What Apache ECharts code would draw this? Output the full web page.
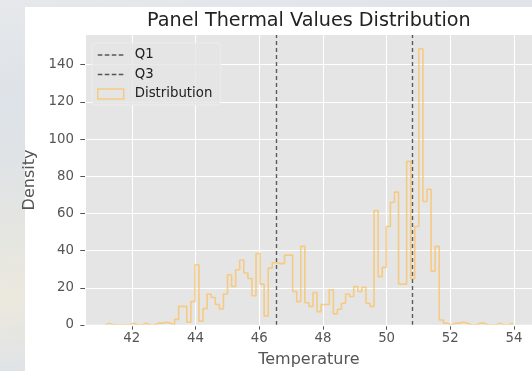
<!DOCTYPE html>
<html><head><meta charset="utf-8">
<script src="https://cdn.jsdelivr.net/npm/echarts@6/dist/echarts.min.js"></script>
<style>
html,body{margin:0;padding:0;}
body{width:532px;height:371px;overflow:hidden;position:relative;
background:linear-gradient(172deg,#e6e8eb 0%,#dde2e8 25%,#e4e5e2 50%,#ebe8dd 68%,#dfe3e8 85%,#e3e6ea 100%);}
#fig{position:absolute;left:25px;top:7px;right:0;bottom:0;background:#ffffff;}
#chart{position:absolute;left:0;top:0;width:532px;height:371px;}
</style></head><body>
<div id="fig"></div><div id="chart"></div>
<script>
const xTicks = [42, 44, 46, 48, 50, 52, 54];
const yTicks = [0, 20, 40, 60, 80, 100, 120, 140];
const binStart = 41.171;
const binWidth = 0.12781;
const density = [
  1, 0, 0, 0, 0, 0, 1, 0, 0, 1,
  0, 0, 1, 1, 1.5, 1, 0, 3, 10, 10,
  1.5, 12.6, 32.4, 2, 8.8, 16.7, 14.8, 11, 8.6, 16.7,
  27, 20.7, 29.7, 35, 28, 25, 15.7, 38.4, 22, 4.9,
  30.6, 33.5, 33, 33, 37.6, 37.6, 18, 12.6, 42.3, 12,
  10, 17.5, 7.2, 11, 11, 19, 6, 8.5, 11.7, 16.7,
  15.3, 20.7, 18, 20.3, 11.7, 10, 61.6, 26, 31, 53,
  66, 71.5, 22, 22, 88, 25, 53, 148.6, 66.4, 73,
  29, 42.3, 2.7, 1, 0, 1, 1, 1.5, 1, 0,
  0, 1, 1, 0, 0, 0, 1, 0, 0, 1
];
const q1 = 46.53;
const q3 = 50.79;
const xMin = 40.532, xMax = 54.589;
const yMin = 0, yMax = 156;

const FONT = 'DejaVu Sans';
const ORANGE = 'rgba(251,193,94,0.72)';

// step outline of histogram from bin edges
const histData = [[binStart, 0]];
density.forEach((v, i) => histData.push([binStart + i * binWidth, v]));
histData.push([binStart + density.length * binWidth, density[density.length - 1]]);
histData.push([binStart + density.length * binWidth, 0]);

const dashIcon = 'path://M0,0h0.01v0.01h-0.01z M0,4.3h4.6v1.4h-4.6z M7,4.3h4.6v1.4h-4.6z M14,4.3h4.6v1.4h-4.6z M21,4.3h4.6v1.4h-4.6z M25.99,9.99h0.01v0.01h-0.01z';

const chart = echarts.init(document.getElementById('chart'), null, {renderer: 'canvas'});
chart.setOption({
  animation: false,
  backgroundColor: 'transparent',
  title: {
    text: 'Panel Thermal Values Distribution',
    left: 308.9, top: 12, padding: 0, textAlign: 'center',
    textStyle: {fontFamily: FONT, fontSize: 19.2, fontWeight: 'normal', color: '#222'}
  },
  grid: {left: 85, top: 35, width: 447.8, height: 290, containLabel: false, outerBoundsMode: 'none',
         show: true, backgroundColor: '#E5E5E5', borderWidth: 0},
  legend: {
    orient: 'vertical', left: 92, top: 43, padding: [5, 8, 4, 5], itemGap: 5.5,
    itemWidth: 26, itemHeight: 10,
    backgroundColor: 'rgba(229,229,229,0.8)', borderColor: '#ededed', borderWidth: 1, borderRadius: 3,
    textStyle: {fontFamily: FONT, fontSize: 13.3, color: '#222', lineHeight: 14, padding: [0, 0, 0, 6]},
    selectedMode: false,
    data: [
      {name: 'Q1', icon: dashIcon, itemStyle: {color: '#555', borderWidth: 0}},
      {name: 'Q3', icon: dashIcon, itemStyle: {color: '#555', borderWidth: 0}},
      {name: 'Distribution', icon: 'rect', itemStyle: {color: 'rgba(0,0,0,0)', borderColor: ORANGE, borderWidth: 1.5}}
    ]
  },
  xAxis: [{
    type: 'value', min: xMin, max: xMax,
    name: 'Temperature', nameLocation: 'middle', nameGap: 27,
    nameTextStyle: {fontFamily: FONT, fontSize: 16, color: '#555555'},
    axisLine: {show: true, lineStyle: {color: '#ffffff', width: 1}},
    axisTick: {show: true, customValues: xTicks, length: 4.7, lineStyle: {color: '#555555', width: 1}},
    axisLabel: {customValues: xTicks, margin: 7, fontFamily: FONT, fontSize: 13.3, color: '#555555'},
    splitLine: {show: true, lineStyle: {color: '#ffffff', width: 1.1}}
  }, {
    type: 'value', min: xMin, max: xMax, position: 'bottom', z: 10,
    axisLine: {show: true, lineStyle: {color: '#ffffff', width: 1.4}},
    axisTick: {show: false}, axisLabel: {show: false}, splitLine: {show: false}
  }],
  yAxis: {
    type: 'value', min: yMin, max: yMax,
    name: 'Density', nameLocation: 'middle', nameRotate: 90, nameGap: 37,
    nameTextStyle: {fontFamily: FONT, fontSize: 16, color: '#555555'},
    axisLine: {show: true, lineStyle: {color: '#ffffff', width: 1}},
    axisTick: {show: true, customValues: yTicks, length: 4.7, lineStyle: {color: '#555555', width: 1}},
    axisLabel: {customValues: yTicks, margin: 11, fontFamily: FONT, fontSize: 13.3, color: '#555555'},
    splitLine: {show: true, lineStyle: {color: '#ffffff', width: 1.1}}
  },
  series: [
    {
      name: 'Q1', type: 'line', data: [], symbol: 'none', z: 4,
      itemStyle: {color: '#555'}, lineStyle: {color: '#555'},
      markLine: {symbol: ['none', 'none'], silent: true, label: {show: false}, animation: false,
        lineStyle: {color: '#5c5c5c', width: 1.4, type: [4, 3]}, data: [{xAxis: q1}]}
    },
    {
      name: 'Q3', type: 'line', data: [], symbol: 'none', z: 4,
      itemStyle: {color: '#555'}, lineStyle: {color: '#555'},
      markLine: {symbol: ['none', 'none'], silent: true, label: {show: false}, animation: false,
        lineStyle: {color: '#5c5c5c', width: 1.4, type: [4, 3]}, data: [{xAxis: q3}]}
    },
    {
      name: 'Distribution', type: 'line', step: 'end', data: histData, symbol: 'none', z: 3,
      itemStyle: {color: ORANGE}, lineStyle: {color: ORANGE, width: 1.6}
    }
  ]
});
</script>
</body></html>
